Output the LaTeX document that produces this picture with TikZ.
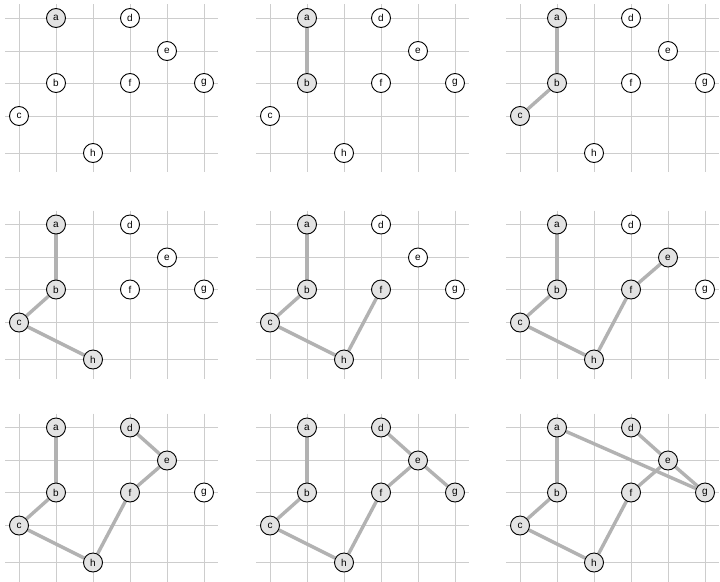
\documentclass[tikz,border=0pt]{standalone}
\usepackage{fontspec}
\setmainfont{Liberation Sans}
\pgfdeclarelayer{background}
\pgfsetlayers{background,main}
\definecolor{gridcol}{HTML}{CDCDCD}
\definecolor{edgecol}{HTML}{B2B2B2}
\definecolor{intree}{HTML}{E3E3E3}
\tikzset{
  gridline/.style={draw=gridcol,line width=1pt},
  treeedge/.style={draw=edgecol,line width=3.4pt},
  vtx/.style={circle,draw=black,line width=0.9pt,minimum size=19pt,inner sep=0pt,
              font=\fontsize{10}{12}\selectfont},
}
\makeatletter
\newcommand\mstpanel[4]{%
  \begin{scope}[shift={(#2,-#3)}]
    \begin{pgfonlayer}{background}
      \foreach \yy in {18,51,83,116,153} \draw[gridline] (5,-\yy) -- (218,-\yy);
      \foreach \xx in {19,56,93,130,167,204} \draw[gridline] (\xx,-4) -- (\xx,-172);
    \end{pgfonlayer}
    \foreach \n/\xx/\yy in {a/56/18,d/130/18,e/167/51,b/56/83,f/130/83,g/204/83,c/19/116,h/93/153}{%
      \edef\mst@tmp{\noexpand\in@{,\n,}{,#4,}}\mst@tmp
      \ifin@\def\vfill{intree}\else\def\vfill{white}\fi
      \node[vtx,fill=\vfill] (#1\n) at (\xx,-\yy) {\n};
    }
  \end{scope}%
}
\makeatother
\begin{document}
\begin{tikzpicture}[x=1pt,y=1pt]
\useasboundingbox (0,0) rectangle (720,-581);
\begin{pgfonlayer}{background}
  \fill[white] (0,0) rectangle (720,-581);
\end{pgfonlayer}
% row 1
\mstpanel{p1}{0}{0}{a}
\mstpanel{p2}{251}{0}{a,b}
\mstpanel{p3}{501}{0}{a,b,c}
% row 2
\mstpanel{p4}{0}{206.5}{a,b,c,h}
\mstpanel{p5}{251}{206.5}{a,b,c,h,f}
\mstpanel{p6}{501}{206.5}{a,b,c,h,f,e}
% row 3
\mstpanel{p7}{0}{409.5}{a,b,c,h,f,e,d}
\mstpanel{p8}{251}{409.5}{a,b,c,h,f,e,d,g}
\mstpanel{p9}{501}{409.5}{a,b,c,h,f,e,d,g}
\begin{pgfonlayer}{background}
  \draw[treeedge] (p2a) -- (p2b);
  \draw[treeedge] (p3a) -- (p3b);
  \draw[treeedge] (p3b) -- (p3c);
  \foreach \u/\v in {a/b,b/c,c/h} \draw[treeedge] (p4\u) -- (p4\v);
  \foreach \u/\v in {a/b,b/c,c/h,h/f} \draw[treeedge] (p5\u) -- (p5\v);
  \foreach \u/\v in {a/b,b/c,c/h,h/f,f/e} \draw[treeedge] (p6\u) -- (p6\v);
  \foreach \u/\v in {a/b,b/c,c/h,h/f,f/e,e/d} \draw[treeedge] (p7\u) -- (p7\v);
  \foreach \u/\v in {a/b,b/c,c/h,h/f,f/e,e/d,e/g} \draw[treeedge] (p8\u) -- (p8\v);
  \foreach \u/\v in {a/b,b/c,c/h,h/f,f/e,e/d,e/g,a/g} \draw[treeedge] (p9\u) -- (p9\v);
\end{pgfonlayer}
\end{tikzpicture}
\end{document}
